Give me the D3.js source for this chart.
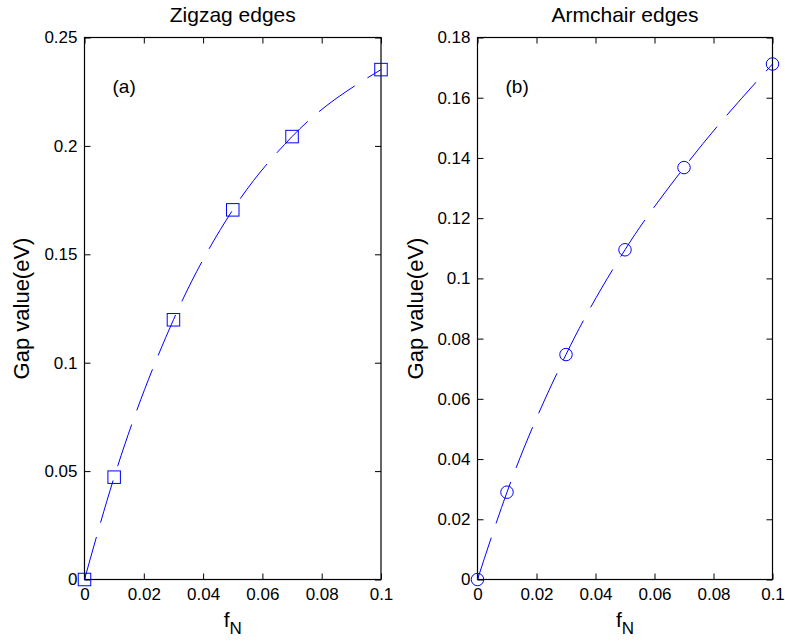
<!DOCTYPE html>
<html>
<head>
<meta charset="utf-8">
<script src="https://cdn.jsdelivr.net/npm/d3@7"></script>
<style>
  body { margin: 0; background: #fff; }
  svg { font-family: "Liberation Sans", Arial, sans-serif; }
</style>
</head>
<body>
<svg id="chart" width="785" height="643"></svg>
<script>
// data
const fN = [0, 0.01, 0.03, 0.05, 0.07, 0.1];
const zigzagGap = [0, 0.0472, 0.1198, 0.1705, 0.2043, 0.2352];
const armchairGap = [0, 0.029, 0.0747, 0.1095, 0.1368, 0.1712];
const xTicks = [0, 0.02, 0.04, 0.06, 0.08, 0.1];
const zigzagTicks = [0, 0.05, 0.1, 0.15, 0.2, 0.25];
const armchairTicks = [0, 0.02, 0.04, 0.06, 0.08, 0.1, 0.12, 0.14, 0.16, 0.18];

const svg = d3.select('#chart');
const blue = '#0000ff';
const tickLen = 6;

const panels = [
  { left: 84.5, right: 381, title: 'Zigzag edges', tag: '(a)', y: zigzagGap, yMax: 0.25, yTicks: zigzagTicks, marker: 'square', ylabX: 29 },
  { left: 477.5, right: 772.5, title: 'Armchair edges', tag: '(b)', y: armchairGap, yMax: 0.18, yTicks: armchairTicks, marker: 'circle', ylabX: 423 },
];
const plotTop = 37.5;
const plotBottom = 579.5;

function fmt(v) {
  return v === 0 ? '0' : String(+v.toFixed(3));
}

panels.forEach((p) => {
  const x = d3.scaleLinear().domain([0, 0.1]).range([p.left, p.right]);
  const y = d3.scaleLinear().domain([0, p.yMax]).range([plotBottom, plotTop]);
  const g = svg.append('g');

  // ticks on all four sides, pointing inward
  const xAxisB = d3.axisBottom(x).tickValues(xTicks).tickSize(-tickLen).tickPadding(8).tickFormat(fmt);
  const xAxisT = d3.axisTop(x).tickValues(xTicks).tickSize(-tickLen).tickFormat('');
  const yAxisL = d3.axisLeft(y).tickValues(p.yTicks).tickSize(-tickLen).tickPadding(7).tickFormat(fmt);
  const yAxisR = d3.axisRight(y).tickValues(p.yTicks).tickSize(-tickLen).tickFormat('');

  [
    [xAxisB, `translate(0,${plotBottom})`],
    [xAxisT, `translate(0,${plotTop})`],
    [yAxisL, `translate(${p.left},0)`],
    [yAxisR, `translate(${p.right},0)`],
  ].forEach(([ax, tr]) => {
    const a = g.append('g').attr('transform', tr).call(ax);
    a.select('.domain').remove();
    a.selectAll('line').attr('stroke', '#000');
    a.selectAll('text').attr('font-size', 17).attr('fill', '#000');
    a.attr('font-family', null);
  });

  g.append('rect')
    .attr('x', p.left).attr('y', plotTop)
    .attr('width', p.right - p.left).attr('height', plotBottom - plotTop)
    .attr('fill', 'none').attr('stroke', '#000').attr('stroke-width', 1.2);

  // dashed smooth curve through the points
  const pts = fN.map((d, i) => [d, p.y[i]]);
  const line = d3.line().x((d) => x(d[0])).y((d) => y(d[1])).curve(d3.curveMonotoneX);
  g.append('path')
    .attr('d', line(pts))
    .attr('fill', 'none')
    .attr('stroke', blue)
    .attr('stroke-width', 1)
    .attr('stroke-dasharray', '44,15');

  // markers
  const s = 12.5;
  if (p.marker === 'square') {
    g.selectAll('.mk').data(pts).enter().append('rect')
      .attr('x', (d) => x(d[0]) - s / 2)
      .attr('y', (d) => y(d[1]) - s / 2)
      .attr('width', s).attr('height', s)
      .attr('fill', 'none').attr('stroke', blue).attr('stroke-width', 1);
  } else {
    g.selectAll('.mk').data(pts).enter().append('circle')
      .attr('cx', (d) => x(d[0]))
      .attr('cy', (d) => y(d[1]))
      .attr('r', s / 2)
      .attr('fill', 'none').attr('stroke', blue).attr('stroke-width', 1);
  }

  const cx = (p.left + p.right) / 2;
  g.append('text')
    .attr('x', cx).attr('y', 22)
    .attr('text-anchor', 'middle').attr('font-size', 21)
    .text(p.title);

  g.append('text')
    .attr('x', p.left + 28).attr('y', 93)
    .attr('font-size', 19)
    .text(p.tag);

  const xl = g.append('text')
    .attr('x', cx - 9).attr('y', 627)
    .attr('font-size', 21);
  xl.append('tspan').text('f');
  xl.append('tspan').attr('dy', 7).attr('font-size', 17).text('N');

  g.append('text')
    .attr('transform', `translate(${p.ylabX},${(plotTop + plotBottom) / 2}) rotate(-90)`)
    .attr('text-anchor', 'middle').attr('font-size', 22)
    .text('Gap value(eV)');
});
</script>
</body>
</html>
